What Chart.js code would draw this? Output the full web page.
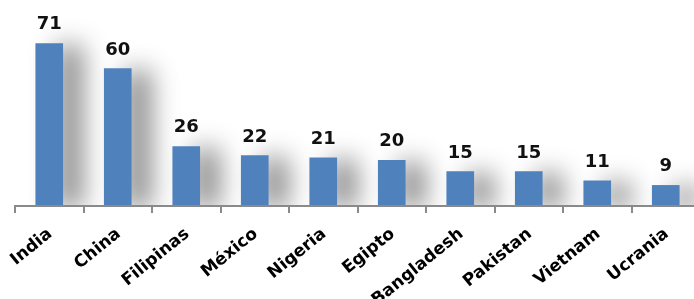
<!DOCTYPE html>
<html>
<head>
<meta charset="utf-8">
<script src="https://cdn.jsdelivr.net/npm/chart.js@4/dist/chart.umd.min.js"></script>
<style>
  html, body { margin: 0; padding: 0; background: #fff; overflow: hidden; }
  #wrap { width: 700px; height: 299px; position: relative; }
</style>
</head>
<body>
<div id="wrap"><canvas id="chart"></canvas></div>
<script>
// Datos
const paises = ['India', 'China', 'Filipinas', 'México', 'Nigeria', 'Egipto', 'Bangladesh', 'Pakistan', 'Vietnam', 'Ucrania'];
const valores = [71, 60, 26, 22, 21, 20, 15, 15, 11, 9];

const fuente = "'DejaVu Sans', Verdana, sans-serif";

// sombra difusa a la derecha de cada barra
const sombraBarras = {
  id: 'sombraBarras',
  beforeDatasetsDraw(chart) {
    const ctx = chart.ctx;
    ctx.save();
    ctx.shadowColor = 'rgba(0,0,0,0.45)';
    ctx.shadowBlur = 26;
    ctx.shadowOffsetX = 20;
    ctx.shadowOffsetY = 2;
  },
  afterDatasetsDraw(chart) {
    chart.ctx.restore();
  }
};

// etiquetas de valor sobre las barras
const etiquetas = {
  id: 'etiquetas',
  afterDraw(chart) {
    const ctx = chart.ctx;
    const meta = chart.getDatasetMeta(0);
    ctx.save();
    ctx.font = 'bold 18px ' + fuente;
    ctx.fillStyle = '#111';
    ctx.textAlign = 'center';
    ctx.textBaseline = 'alphabetic';
    meta.data.forEach((bar, i) => {
      ctx.fillText(String(valores[i]), bar.x, bar.y - 14);
    });
    ctx.restore();
  }
};

new Chart(document.getElementById('chart'), {
  type: 'bar',
  data: {
    labels: paises,
    datasets: [{
      data: valores,
      backgroundColor: '#4F81BD',
      borderWidth: 0,
      barThickness: 27,
    }],
  },
  options: {
    responsive: true,
    maintainAspectRatio: false,
    animation: false,
    layout: { padding: { left: 15, right: 0, top: 0, bottom: 0 } },
    plugins: {
      legend: { display: false },
      tooltip: { enabled: false },
    },
    scales: {
      x: {
        offset: true,
        border: { display: true, color: '#8a8a8a', width: 2, z: 1 },
        grid: {
          offset: true,
          drawOnChartArea: false,
          drawTicks: true,
          tickLength: 7,
          color: '#8a8a8a',
          lineWidth: 2,
        },
        ticks: {
          autoSkip: false,
          minRotation: 39,
          maxRotation: 39,
          padding: 11,
          labelOffset: 1,
          color: '#000',
          font: { family: fuente, size: 17, weight: 'bold' },
        },
        afterFit(scale) {
          scale.height = 93;
          scale.paddingLeft = 0;
          scale.paddingRight = 0;
        },
      },
      y: {
        display: false,
        min: 0,
        max: 90,
      },
    },
  },
  plugins: [sombraBarras, etiquetas],
});
</script>
</body>
</html>
